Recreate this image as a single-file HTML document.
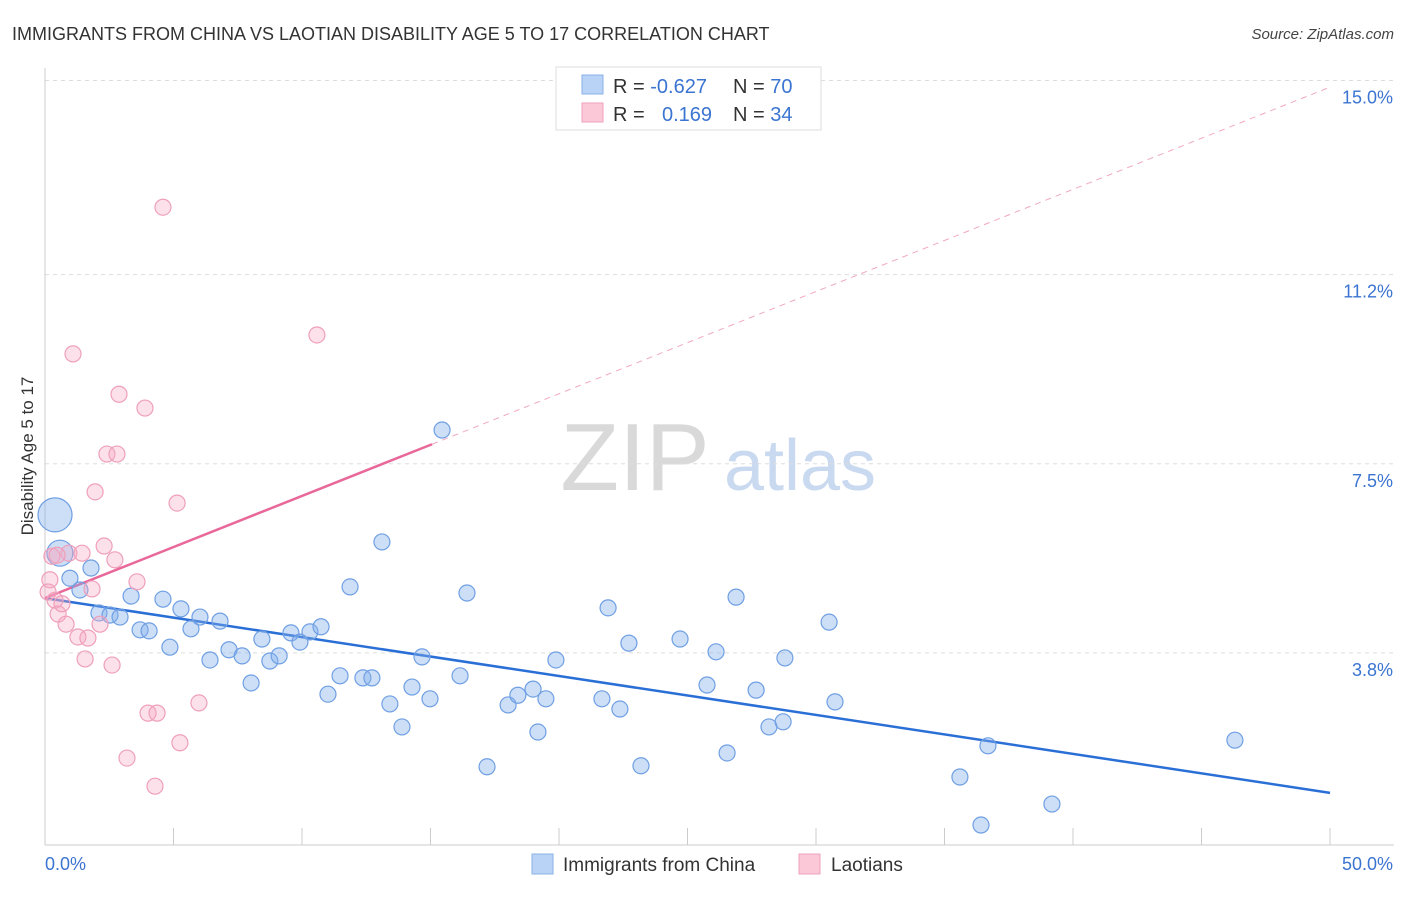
<!DOCTYPE html>
<html><head><meta charset="utf-8"><style>
body{margin:0;background:#fff;font-family:"Liberation Sans",sans-serif;}
svg text{font-family:"Liberation Sans",sans-serif;}
</style></head><body>
<svg id="chart" width="1406" height="892" xmlns="http://www.w3.org/2000/svg">
<text x="12" y="40" font-size="18" fill="#333">IMMIGRANTS FROM CHINA VS LAOTIAN DISABILITY AGE 5 TO 17 CORRELATION CHART</text>
<text x="1394" y="39" font-size="15" fill="#444" text-anchor="end" font-style="italic">Source: ZipAtlas.com</text>
<g>
<text x="635" y="490" font-size="96" fill="#d9d9d9" font-family="Liberation Serif" text-anchor="middle">ZIP</text>
<text x="800" y="490" font-size="72" fill="#c9d9f0" text-anchor="middle">atlas</text>
</g>
<g id="grid"></g><g id="axes"></g><g id="lines"></g><g id="pts"></g>
<text transform="translate(33,456) rotate(-90)" font-size="17" fill="#333" text-anchor="middle">Disability Age 5 to 17</text>
<g>
<rect x="556" y="67" width="265" height="63" fill="#fff" stroke="#ddd"/>
<rect x="582" y="75" width="21" height="19" fill="#b8d3f5" stroke="#8ab2e8"/>
<rect x="582" y="103" width="21" height="19" fill="#fbc8d8" stroke="#f0a0bb"/>
<text x="613" y="93" font-size="20" fill="#333">R = <tspan fill="#3b74d1">-0.627</tspan></text>
<text x="733" y="93" font-size="20" fill="#333">N = <tspan fill="#3b74d1">70</tspan></text>
<text x="613" y="121" font-size="20" fill="#333">R = </text>
<text x="662" y="121" font-size="20" fill="#3b74d1">0.169</text>
<text x="733" y="121" font-size="20" fill="#333">N = <tspan fill="#3b74d1">34</tspan></text>
</g>
<g>
<rect x="532" y="854" width="21" height="20" fill="#b8d3f5" stroke="#8ab2e8"/>
<text x="563" y="871" font-size="19" fill="#333">Immigrants from China</text>
<rect x="799" y="854" width="21" height="20" fill="#fbc8d8" stroke="#f0a0bb"/>
<text x="831" y="871" font-size="19" fill="#333">Laotians</text>
</g>
</svg>
<script>
const blueX=[0.39,0.58,0.97,1.36,1.79,2.10,2.53,2.92,3.35,3.70,4.05,4.59,4.86,5.29,5.68,6.03,6.42,6.81,7.16,7.67,8.02,8.44,8.75,9.11,9.57,9.92,10.31,10.74,11.01,11.48,11.87,12.37,12.72,13.11,13.42,13.89,14.28,14.67,14.98,15.45,16.15,16.42,17.20,18.02,18.40,18.99,19.18,19.49,19.88,21.67,21.91,22.37,22.72,23.19,24.71,25.76,26.11,26.54,26.89,27.67,28.17,28.72,28.79,30.51,30.74,35.60,36.42,36.69,39.18,46.30];
const blueY=[6.50,5.75,5.26,5.03,5.46,4.58,4.54,4.50,4.91,4.25,4.23,4.85,3.91,4.66,4.27,4.50,3.66,4.42,3.86,3.74,3.21,4.07,3.64,3.74,4.19,4.01,4.21,4.31,2.99,3.35,5.09,3.31,3.31,5.97,2.80,2.35,3.13,3.72,2.90,8.16,3.35,4.97,1.57,2.78,2.97,3.09,2.25,2.90,3.66,2.90,4.68,2.70,3.99,1.59,4.07,3.17,3.82,1.84,4.89,3.07,2.35,2.45,3.70,4.40,2.84,1.37,0.43,1.98,0.84,2.09];
const pinkX=[0.19,0.27,0.39,0.51,0.66,0.82,0.93,1.09,1.28,1.44,1.56,1.67,1.83,1.95,2.14,2.30,2.41,2.61,2.72,2.80,2.88,3.19,3.58,3.89,4.01,4.28,4.36,4.59,5.14,5.25,5.99,10.58,0.12,0.47];
const pinkY=[5.23,5.69,4.83,4.56,4.76,4.36,5.75,9.65,4.11,5.75,3.68,4.09,5.05,6.95,4.36,5.89,7.69,3.56,5.62,7.69,8.86,1.74,5.19,8.59,2.62,1.19,2.62,12.52,6.73,2.04,2.82,10.02,4.99,5.71];
const blueR=[17,13];
const blueTrend=[4.87,1.06]; // y at x=0, x=50
const pinkTrend=[4.87,14.87];
const pinkSolidEnd=15.06;
const yTicks=[15.0,11.2,7.5,3.8];
const yTickLabels=["15.0%","11.2%","7.5%","3.8%"];
const xTicks=[0,5,10,15,20,25,30,35,40,45,50];
const X=v=>45+v*25.7, Y=v=>847-v*51.1;
const NS="http://www.w3.org/2000/svg";
function mk(parent,tag,attrs){const e=document.createElementNS(NS,tag);for(const k in attrs)e.setAttribute(k,attrs[k]);document.getElementById(parent).appendChild(e);return e;}
yTicks.forEach((t,i)=>{
  const g=mk('grid','line',{x1:45,x2:1394,y1:Y(t),y2:Y(t),stroke:'#ddd','stroke-dasharray':'4,4'});
  
  
  const l=mk('grid','text',{x:1393,y:Y(t)+23,'font-size':18,fill:'#3b74d1','text-anchor':'end'});
  l.textContent=yTickLabels[i];
  
  
});
const ax=mk('axes','line',{x1:45,x2:45,y1:68,y2:845,stroke:'#ccc'});


const bx=mk('axes','line',{x1:45,x2:1394,y1:845,y2:845,stroke:'#ccc'});


xTicks.forEach(t=>{const e=mk('axes','line',{x1:X(t),x2:X(t),y1:828,y2:845,stroke:'#ccc'});
  
  });
const x0=mk('axes','text',{x:45,y:870,'font-size':18,fill:'#3b74d1'});x0.textContent='0.0%';


const x1=mk('axes','text',{x:1393,y:870,'font-size':18,fill:'#3b74d1','text-anchor':'end'});x1.textContent='50.0%';


blueX.forEach((v,i)=>{const c=mk('pts','circle',{cx:X(v),cy:Y(blueY[i]),r:blueR[i]||8,fill:'rgba(130,175,235,0.4)',stroke:'#6f9fe3','stroke-width':1.2});
  
  });
pinkX.forEach((v,i)=>{const c=mk('pts','circle',{cx:X(v),cy:Y(pinkY[i]),r:8,fill:'rgba(245,170,195,0.35)',stroke:'#ef9fbb','stroke-width':1.2});
  
  });
const pAt=x=>pinkTrend[0]+(pinkTrend[1]-pinkTrend[0])*x/50;
const bl=mk('lines','line',{x1:X(0),y1:Y(blueTrend[0]),x2:X(50),y2:Y(blueTrend[1]),stroke:'#2a6fd6','stroke-width':2.5});


const pd=mk('lines','line',{x1:X(pinkSolidEnd),y1:Y(pAt(pinkSolidEnd)),x2:X(50),y2:Y(pinkTrend[1]),stroke:'#f0a8c0','stroke-width':1,'stroke-dasharray':'6,5'});


const ps=mk('lines','line',{x1:X(0),y1:Y(pinkTrend[0]),x2:X(pinkSolidEnd),y2:Y(pAt(pinkSolidEnd)),stroke:'#e8689a','stroke-width':2.5});


</script>
</body></html>
